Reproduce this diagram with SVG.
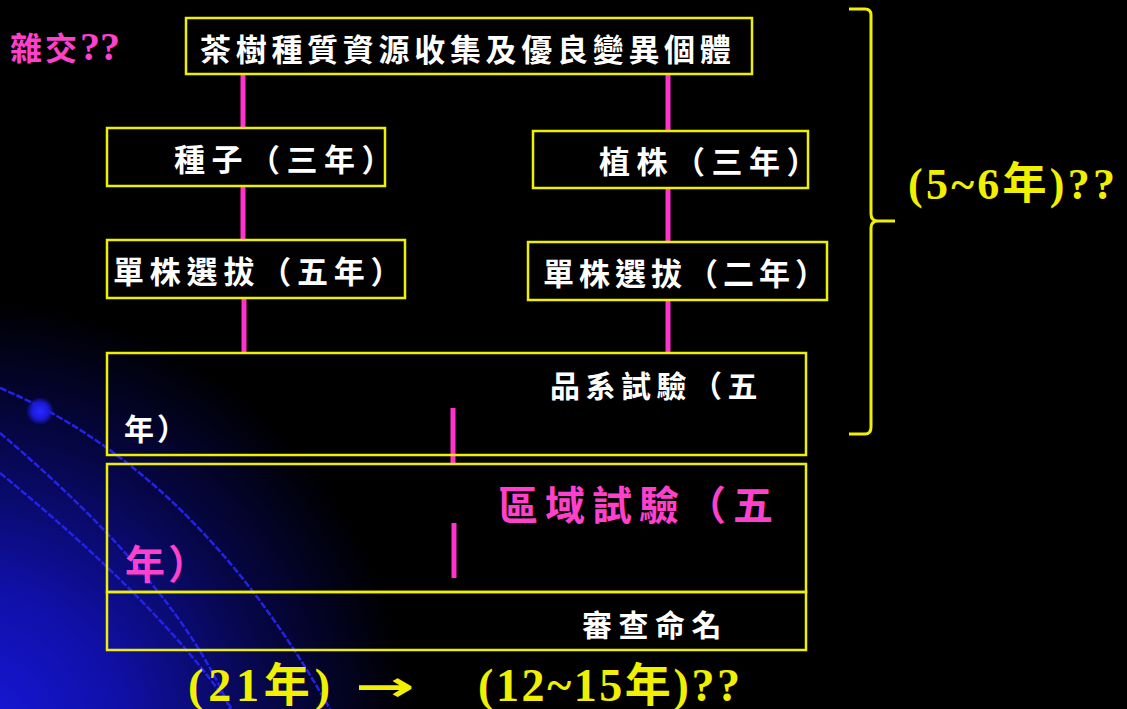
<svg xmlns="http://www.w3.org/2000/svg" width="1127" height="709" viewBox="0 0 1127 709">
<defs>
<radialGradient id="bg" cx="-30" cy="740" r="440" gradientUnits="userSpaceOnUse">
<stop offset="0" stop-color="#1818e0"/>
<stop offset="0.35" stop-color="#1010a8"/>
<stop offset="0.7" stop-color="#060645"/>
<stop offset="1" stop-color="#000000"/>
</radialGradient>
<radialGradient id="dot" cx="0.5" cy="0.5" r="0.5">
<stop offset="0" stop-color="#2a2aff"/>
<stop offset="0.6" stop-color="#1a1ad8"/>
<stop offset="1" stop-color="#1a1ad8" stop-opacity="0"/>
</radialGradient>
<style>
.box{fill:none;stroke:#eef000;stroke-width:2.5}
.con{stroke:#ff33cc;stroke-width:5;fill:none}
.arc{stroke:#2222e8;stroke-width:2.5;fill:none;stroke-dasharray:7 2}
.w{fill:#ffffff;font-family:"Noto Sans CJK TC","Noto Sans CJK SC",sans-serif;font-weight:bold}
.p{fill:#ff40cc;font-family:"Noto Sans CJK TC","Noto Sans CJK SC",sans-serif;font-weight:bold}
.y{fill:#f0f000;font-family:"Liberation Serif","Noto Sans CJK TC",serif;font-weight:bold}
</style>
</defs>
<rect width="1127" height="709" fill="#000"/>
<rect width="1127" height="709" fill="url(#bg)"/>
<g id="decor">
<path class="arc" d="M0,388 Q195,470 330,709"/>
<path class="arc" d="M0,433 Q178,584 230,709"/>
<path class="arc" d="M0,473 Q160,604 232,709"/>
<circle cx="40" cy="411" r="14" fill="url(#dot)"/>
</g>
<g id="connectors">
<line class="con" x1="243" y1="75" x2="243" y2="128"/>
<line class="con" x1="668" y1="75" x2="668" y2="131"/>
<line class="con" x1="243" y1="187" x2="243" y2="240"/>
<line class="con" x1="668" y1="189" x2="668" y2="242"/>
<line class="con" x1="244" y1="299" x2="244" y2="353"/>
<line class="con" x1="668" y1="301" x2="668" y2="353"/>
<line class="con" x1="453" y1="408" x2="453" y2="463"/>
<line class="con" x1="454" y1="523" x2="454" y2="578"/>
</g>
<g id="n_top">
<rect class="box" x="186" y="18" width="566" height="56"/>
<text class="w" x="200" y="61" font-size="31" letter-spacing="4.7">茶樹種質資源收集及優良變異個體</text>
</g>
<g id="n_seed">
<rect class="box" x="107" y="128" width="278" height="58"/>
<text class="w" x="174" y="171" font-size="31" letter-spacing="6.5">種子（三年）</text>
</g>
<g id="n_plant">
<rect class="box" x="533" y="131" width="275" height="57"/>
<text class="w" x="599" y="173" font-size="31" letter-spacing="6.5">植株（三年）</text>
</g>
<g id="n_sel5">
<rect class="box" x="107" y="240" width="298" height="58"/>
<text class="w" x="113" y="283" font-size="31" letter-spacing="5.8">單株選拔（五年）</text>
</g>
<g id="n_sel2">
<rect class="box" x="528" y="242" width="299" height="58"/>
<text class="w" x="543" y="285" font-size="31" letter-spacing="5">單株選拔（二年）</text>
</g>
<g id="n_line">
<rect class="box" x="107" y="353" width="699" height="102"/>
<text class="w" x="550" y="397" font-size="30" letter-spacing="5.5">品系試驗（五</text>
<text class="w" x="124" y="440" font-size="30" letter-spacing="3">年）</text>
</g>
<g id="n_region">
<rect class="box" x="107" y="464" width="699" height="128"/>
<text class="p" x="498" y="520" font-size="40" letter-spacing="7">區域試驗（五</text>
<text class="p" x="125" y="579" font-size="40" letter-spacing="3">年）</text>
</g>
<g id="n_name">
<rect class="box" x="107" y="592" width="699" height="58"/>
<text class="w" x="582" y="636" font-size="30" letter-spacing="6.5">審查命名</text>
</g>
<g id="brace">
<path d="M849,9 L865,9 Q871,9 871,15 L871,214 Q871,221 878,221 L895,221 M878,221 Q871,221 871,228 L871,427 Q871,434 865,434 L849,434" fill="none" stroke="#f0f000" stroke-width="3"/>
</g>
<text class="p" x="10" y="60" font-size="32" letter-spacing="3">雜交<tspan font-family="Liberation Serif" font-size="40" letter-spacing="0">??</tspan></text>
<text class="y" x="908" y="199" font-size="44" textLength="207" lengthAdjust="spacing">(5~6年)??</text>
<text class="y" x="188" y="701" font-size="46" textLength="142" lengthAdjust="spacing">(21年)</text>
<text x="355" y="701" fill="#f0f000" font-size="42" font-weight="bold" font-family="DejaVu Sans" textLength="60" lengthAdjust="spacingAndGlyphs">→</text>
<text class="y" x="478" y="701" font-size="46" textLength="262" lengthAdjust="spacing">(12~15年)??</text>
</svg>
